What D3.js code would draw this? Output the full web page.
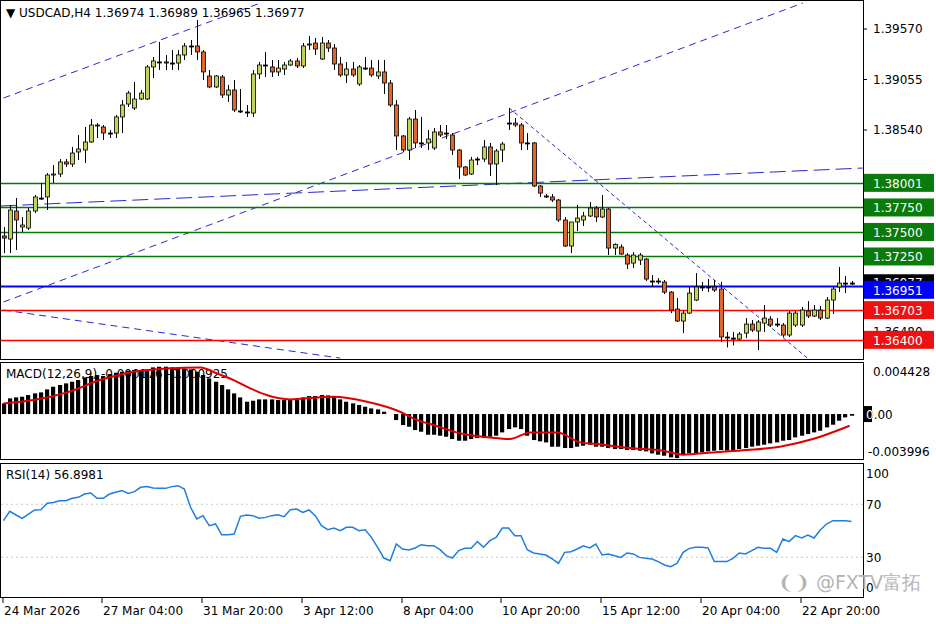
<!DOCTYPE html>
<html><head><meta charset="utf-8">
<script src="https://cdn.jsdelivr.net/npm/d3@7"></script>
<style>
body{margin:0;background:#fff;}
text{font-family:"DejaVu Sans",sans-serif;font-size:12px;}
</style></head>
<body>
<script>
// candles, price x 100000: [open, high, low, close]
var ohlc = [
[137459,137551,137285,137438],[137428,137775,137285,137724],[137714,137846,137316,137622],[137551,137653,137500,137571],
[137540,137744,137520,137714],[137714,137877,137693,137857],[137846,137999,137826,137846],[137857,138101,137724,138081],
[138081,138183,137999,138091],[138091,138244,138061,138214],[138214,138244,138163,138193],[138193,138367,138163,138305],
[138316,138489,138234,138346],[138336,138571,138203,138418],[138418,138652,138408,138591],[138591,138611,138458,138581],
[138571,138591,138438,138509],[138509,138540,138458,138509],[138509,138693,138458,138673],[138673,138846,138509,138795],
[138805,138938,138775,138917],[138764,139030,138744,138856],[138856,138948,138846,138917],[138856,139203,138846,139183],
[139183,139285,139070,139244],[139234,139438,139152,139234],[139234,139305,139152,139223],[139223,139356,139152,139223],
[139223,139356,139152,139305],[139305,139427,139254,139397],[139397,139458,139305,139397],[139397,139662,139254,139336],
[139336,139356,139050,139132],[139091,139152,138968,138979],[138979,139101,138968,139091],[139081,139101,138866,138897],
[138897,139000,138826,138948],[138948,139050,138724,138744],[138734,138958,138713,138734],[138724,138795,138673,138724],
[138713,139152,138673,139111],[139111,139234,139060,139203],[139203,139336,139081,139203],[139183,139254,139081,139132],
[139132,139254,139091,139172],[139162,139234,139101,139203],[139203,139264,139193,139244],[139244,139274,139172,139193],
[139193,139427,139172,139397],[139407,139499,139356,139417],[139427,139478,139305,139366],[139264,139489,139254,139427],
[139427,139458,139336,139376],[139376,139417,139152,139213],[139213,139285,139081,139101],[139101,139234,139019,139162],
[139162,139234,139081,139101],[139009,139203,138989,139183],[139172,139285,139152,139172],[139172,139254,139081,139101],
[139091,139254,139060,139132],[139132,139254,138907,139019],[139019,139050,138775,138795],[138795,138846,138336,138479],
[138479,138489,138316,138336],[138336,138673,138234,138652],[138652,138744,138356,138408],[138408,138673,138356,138408],
[138408,138540,138336,138448],[138356,138560,138336,138520],[138520,138591,138469,138489],[138509,138591,138448,138509],
[138489,138509,138285,138336],[138336,138346,138040,138163],[138163,138173,138071,138081],[138091,138265,138081,138234],
[138244,138265,138183,138244],[138244,138438,138214,138367],[138367,138408,138071,138193],[138193,138346,137979,138326],
[138336,138418,138214,138397],[138611,138764,138540,138611],[138611,138662,138571,138591],[138591,138611,138336,138408],
[138408,138509,138336,138408],[138408,138418,137959,137969],[137969,137979,137857,137897],[137867,137887,137846,137857],
[137857,137887,137806,137826],[137826,137836,137602,137622],[137622,137653,137347,137357],[137357,137602,137285,137602],
[137602,137775,137510,137642],[137622,137704,137561,137663],[137663,137806,137653,137744],[137744,137765,137602,137653],
[137653,137877,137642,137734],[137734,137744,137265,137336],[137336,137384,137265,137374],[137347,137373,137265,137275],
[137265,137285,137122,137173],[137183,137296,137132,137265],[137214,137285,137163,137265],[137224,137234,137000,137020],
[137000,137061,136939,137000],[137000,137030,136969,137000],[136990,137010,136867,136887],[136887,136897,136673,136704],
[136714,136826,136582,136592],[136592,136704,136469,136673],[136673,136939,136663,136877],[136806,137081,136795,136939],
[136939,136990,136898,136939],[136939,137020,136888,136939],[136939,137010,136888,136908],[136918,136990,136378,136429],
[136429,136480,136323,136429],[136418,136480,136343,136418],[136408,136480,136398,136459],[136469,136622,136418,136561],
[136561,136602,136480,136500],[136490,136602,136296,136582],[136571,136755,136480,136622],[136612,136643,136531,136551],
[136561,136622,136531,136561],[136551,136571,136429,136449],[136449,136694,136429,136673],[136551,136694,136531,136673],
[136551,136735,136531,136704],[136694,136795,136622,136643],[136643,136755,136633,136704],[136704,136745,136602,136622],
[136622,136837,136612,136806],[136806,136939,136663,136918],[136939,137143,136888,136979],[136979,137051,136877,136979],
[136979,137000,136959,136979]
];
// MACD histogram, x 1e-6
var macd = [1123,1650,1755,1825,2001,2176,2282,2597,2878,3054,3229,3405,3580,3861,4001,4107,4001,4212,4352,4458,4563,4633,4633,4703,4914,4984,4984,4914,4914,4809,4703,4458,4107,3756,3405,3054,2597,2176,1755,1299,1404,1544,1544,1544,1474,1474,1474,1544,1755,1895,1895,2001,1966,1895,1544,1299,1123,948,772,597,491,246,0,-632,-1158,-1334,-1685,-1860,
-2176,-2176,-2282,-2387,-2633,-2808,-2808,-2633,-2527,-2527,-2387,-2282,-1931,-1580,-1404,-1580,-2282,-2738,-2878,-2984,-3440,-3440,-3580,-3580,-3440,-3335,-3229,-3440,-3440,-3580,-3686,-3686,-3791,-3791,-3861,-3931,-4142,-4282,-4388,-4563,-4633,-4212,-4142,-4142,-4037,-3931,-3861,-3791,-3861,-3791,-3686,-3580,-3440,-3335,-3229,-3089,-2984,-2808,-2738,-2457,-2282,-2106,-1931,-1755,-1404,-1123,-702,-351,-176];
// signal line, bar index and value x 1e-6
var signalBar = [0,4.8,10.2,15.5,20.9,26.2,31.6,34.2,36.9,39.6,42.2,46,50.3,52.9,58.3,63.6,66.3,68.4,73.8,79.1,81.2,84.5,88.8,92.5,95.2,100.5,105.8,109,113.8,119.2,124.5,129.8,135.7];
var signalVal = [1123,1474,2282,3580,4458,4809,4914,4282,3580,2703,2001,1544,1755,1825,1299,246,-632,-1053,-2106,-2527,-2633,-1931,-1931,-2984,-3159,-3580,-3861,-4282,-4037,-3791,-3440,-2633,-1229];
var rsi = [57.6,64.7,61.9,59.4,62.6,65.7,65.9,70.7,71.4,72.7,72.7,74.5,75.2,77.7,78.5,74.5,74.5,77.7,79.0,80.3,78.2,79.5,82.8,83.3,82.3,82.0,82.0,83.3,84.0,81.5,67.7,58.9,61.4,53.8,55.1,47.0,47.0,47.5,60.9,61.9,61.4,59.4,60.1,61.4,62.1,60.6,65.9,66.4,63.9,65.7,61.4,53.8,50.8,52.1,50.1,52.6,52.6,50.1,50.8,45.0,37.5,29.4,27.4,40.0,36.2,35.5,37.0,39.5,38.7,38.7,35.7,31.2,29.4,35.0,
36.7,36.7,41.8,37.5,42.5,45.0,52.1,52.1,46.3,46.3,35.7,33.2,32.5,31.7,28.7,25.4,33.7,34.2,36.2,38.7,37.0,40.0,31.7,32.5,31.2,29.9,33.2,32.5,29.9,29.2,28.7,26.7,24.2,22.9,25.4,33.7,36.7,37.5,37.5,37.0,26.7,26.7,26.7,29.2,33.2,32.5,35.0,37.5,36.7,36.7,33.7,43.8,41.8,46.3,44.5,46.8,44.5,50.6,55.1,57.6,57.6,57.6,56.9];
var priceTicks = [1.39570,1.39055,1.38540,1.38025,1.37510,1.36995,1.36480];
var levels = [
  {p:1.38001,c:'#007a00',bg:'#0a7a0a'},{p:1.37750,c:'#007a00',bg:'#0a7a0a'},
  {p:1.37500,c:'#007a00',bg:'#0a7a0a'},{p:1.37250,c:'#007a00',bg:'#0a7a0a'},
  {p:1.36951,c:'#0000ff',bg:'#0000ff',w:2},{p:1.36703,c:'#ff0000',bg:'#ee1111'},{p:1.36400,c:'#ff0000',bg:'#ee1111'}];
var trendLines = [
  {i1:0,p1:1.38866,i2:41.2,p2:1.39835,dash:'7,5'},
  {i1:0,p1:1.36786,i2:128.2,p2:1.39835,dash:'7,5'},
  {i1:-0.5,p1:1.37765,i2:137.8,p2:1.38152,dash:'16,6'},
  {i1:81.1,p1:1.38764,i2:129.3,p2:1.36194,dash:'4,3'},
  {i1:0,p1:1.36704,i2:54,p2:1.36214,dash:'7,5'}];
var timeLabels = [[0,'24 Mar 2026'],[16,'27 Mar 04:00'],[32,'31 Mar 20:00'],[48,'3 Apr 12:00'],[64,'8 Apr 04:00'],[80,'10 Apr 20:00'],[96,'15 Apr 12:00'],[112,'20 Apr 04:00'],[128,'22 Apr 20:00']];

var W = 936, H = 624, R = 863;
var svg = d3.select('body').append('svg').attr('width',W).attr('height',H);
var x = d3.scaleLinear().domain([0,136]).range([3.5,851.5]);
var y = d3.scaleLinear().domain([1.39570,1.38540]).range([29,130]);
var ym = d3.scaleLinear().domain([0.004428,-0.003996]).range([372,452]);
var yr = d3.scaleLinear().domain([100,0]).range([464.5,597]);

//clip for main panel
svg.append('clipPath').attr('id','cm').append('rect').attr('x',1).attr('y',1).attr('width',R-1).attr('height',358);
var main = svg.append('g').attr('clip-path','url(#cm)');

main.selectAll('line.tl').data(trendLines).enter().append('line')
  .attr('x1',function(d){return x(d.i1);}).attr('y1',function(d){return y(d.p1);})
  .attr('x2',function(d){return x(d.i2);}).attr('y2',function(d){return y(d.p2);})
  .attr('stroke','#2a2ad0').attr('stroke-dasharray',function(d){return d.dash;}).attr('stroke-width',1);

main.selectAll('line.lv').data(levels).enter().append('line')
  .attr('x1',0).attr('x2',R).attr('y1',function(d){return Math.round(y(d.p))+0.5;}).attr('y2',function(d){return Math.round(y(d.p))+0.5;})
  .attr('stroke',function(d){return d.c;}).attr('stroke-width',function(d){return d.w||1.3;});

var candles = main.selectAll('g.c').data(ohlc).enter().append('g');
candles.append('line')
  .attr('x1',function(d,i){return Math.round(x(i))+0.5;}).attr('x2',function(d,i){return Math.round(x(i))+0.5;})
  .attr('y1',function(d){return y(d[1]/1e5);}).attr('y2',function(d){return y(d[2]/1e5);})
  .attr('stroke','#000').attr('stroke-width',1);
candles.append('rect')
  .attr('x',function(d,i){return Math.round(x(i))-1.5;}).attr('width',4)
  .attr('y',function(d){return y(Math.max(d[0],d[3])/1e5);})
  .attr('height',function(d){return Math.max(1,Math.abs(y(d[0]/1e5)-y(d[3]/1e5)));})
  .attr('fill',function(d){return d[3]>d[0]?'#bfd35a':(d[3]<d[0]?'#e0662e':'#000');})
  .attr('stroke','#000').attr('stroke-width',0.8);

// panels frames
svg.append('rect').attr('x',0.5).attr('y',0.5).attr('width',R).attr('height',359).attr('fill','none').attr('stroke','#000');
svg.append('rect').attr('x',0.5).attr('y',362.5).attr('width',R).attr('height',97).attr('fill','none').attr('stroke','#000');
svg.append('rect').attr('x',0.5).attr('y',463.5).attr('width',R).attr('height',134).attr('fill','none').attr('stroke','#000');

svg.append('text').attr('x',6).attr('y',17).text('\u25BC  USDCAD,H4  1.36974 1.36989 1.36965 1.36977');

// price axis
var pa = svg.append('g');
pa.selectAll('text').data(priceTicks).enter().append('text')
  .attr('x',873).attr('y',function(d){return y(d)+4;}).text(function(d){return d.toFixed(5);});
pa.selectAll('line').data(priceTicks).enter().append('line')
  .attr('x1',R).attr('x2',R+4).attr('y1',function(d){return y(d);}).attr('y2',function(d){return y(d);}).attr('stroke','#000');
svg.append('rect').attr('x',R+1).attr('y',y(1.36977)-9).attr('width',70).attr('height',17).attr('fill','#000');
svg.append('text').attr('x',873).attr('y',y(1.36977)+4).attr('fill','#fff').text('1.36977');
var lb = svg.append('g').selectAll('g').data(levels).enter().append('g')
  .attr('transform',function(d){return 'translate('+(R+1)+','+(y(d.p)+(d.p===1.36951?4:0))+')';});
lb.append('rect').attr('x',0).attr('y',-9).attr('width',70).attr('height',18).attr('fill',function(d){return d.bg;});
lb.append('text').attr('x',9).attr('y',5).attr('fill','#fff').text(function(d){return d.p.toFixed(5);});

// MACD
svg.append('text').attr('x',6).attr('y',378).text('MACD(12,26,9) -0.000176 -0.000925');
svg.append('g').selectAll('rect').data(macd).enter().append('rect')
  .attr('x',function(d,i){return Math.round(x(i))-2;}).attr('width',4.2)
  .attr('y',function(d){return Math.min(ym(d/1e6),ym(0));})
  .attr('height',function(d){return Math.abs(ym(d/1e6)-ym(0));}).attr('fill','#000');
svg.append('path').datum(d3.range(signalBar.length))
  .attr('d',d3.line().curve(d3.curveMonotoneX).x(function(i){return x(signalBar[i]);}).y(function(i){return ym(signalVal[i]/1e6);}))
  .attr('fill','none').attr('stroke','#e00000').attr('stroke-width',2);
svg.append('text').attr('x',873).attr('y',ym(0.004428)+4).text('0.004428');
svg.append('text').attr('x',868).attr('y',ym(-0.003996)+4).text('-0.003996');
svg.append('rect').attr('x',R+1).attr('y',ym(0)-8).attr('width',8).attr('height',16).attr('fill','#000');
svg.append('text').attr('x',866).attr('y',ym(0)+5).text('0.00').attr('fill','#000');
svg.append('text').attr('x',866).attr('y',ym(0)+5).text('0').attr('fill','#fff');

// RSI
[70,30].forEach(function(v){
  svg.append('line').attr('x1',1).attr('x2',R).attr('y1',yr(v)).attr('y2',yr(v))
    .attr('stroke','#c8c8c8').attr('stroke-dasharray','2,3');
});
svg.append('text').attr('x',6).attr('y',479).text('RSI(14) 56.8981');
svg.append('path').datum(rsi)
  .attr('d',d3.line().x(function(d,i){return x(i);}).y(function(d){return yr(d);}))
  .attr('fill','none').attr('stroke','#1e7fe0').attr('stroke-width',1.5);
[[100,474],[70,505],[30,558],[0,588]].forEach(function(t){
  svg.append('text').attr('x',866).attr('y',t[1]+4).text(t[0]);
});
svg.append('text').attr('x',778).attr('y',589).attr('fill','#b4b4b4').style('font-size','19px').text('\u2768\u2769 @FXTV富拓');

// time axis
var ta = svg.append('g').selectAll('g').data(timeLabels).enter().append('g')
  .attr('transform',function(d){return 'translate('+Math.round(x(d[0])-1)+',0)';});
ta.append('line').attr('y1',598).attr('y2',603).attr('stroke','#000');
ta.append('text').attr('x',1).attr('y',615).text(function(d){return d[1];});
</script>
</body></html>
